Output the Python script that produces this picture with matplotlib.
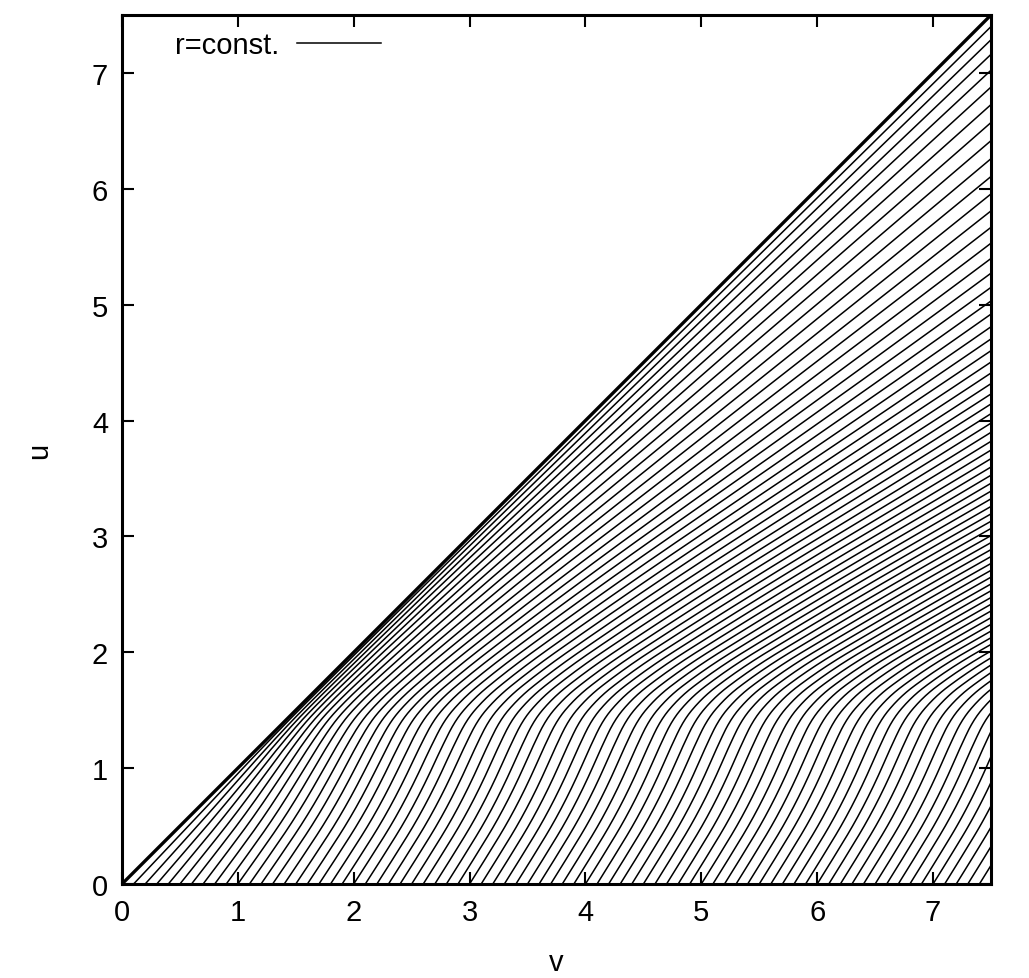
import numpy as np
import matplotlib
matplotlib.use("Agg")
import matplotlib.pyplot as plt

# границы области (v, u)
v_max = 7.5
u_max = 7.5

# где линии r=const пересекают u=0
start_v = np.round(np.arange(0.1, 7.45, 0.1), 2)

slope_u = [0.0, 0.4, 0.75, 1.05, 1.3, 1.5, 1.7, 2.0, 3.0, 5.0, 7.5]
slope_m = [1.6, 1.65, 2.0, 2.3, 2.1, 1.2, 0.75, 0.55, 0.52, 0.6, 0.7]

# на каком расстоянии от диагонали наклон становится "своим"
width_u = [0.0, 0.8, 1.4, 2.0, 7.5]
width_d = [0.8, 0.6, 0.6, 2.0, 2.5]

ticks = [0, 1, 2, 3, 4, 5, 6, 7]


def slope(u, v):
    d = np.maximum(v - u, 0.0)
    d0 = np.interp(u, width_u, width_d)
    th = np.log(np.interp(u, slope_u, slope_m)) * (1.0 - np.exp(-d / d0))
    return np.exp(th)


def trace(v0, h=0.005):
    # идём по v от u=0 до правого края
    n = int(round((v_max - v0) / h))
    vs = np.linspace(v0, v_max, n + 1)
    h = vs[1] - vs[0]
    us = np.zeros_like(vs)
    u = 0.0
    for i in range(n):
        v = vs[i]
        k1 = slope(u, v)
        k2 = slope(u + h * k1 / 2, v + h / 2)
        k3 = slope(u + h * k2 / 2, v + h / 2)
        k4 = slope(u + h * k3, v + h)
        u = u + h * (k1 + 2 * k2 + 2 * k3 + k4) / 6
        us[i + 1] = u
    return vs, us


plt.rcParams['font.family'] = ['Liberation Sans', 'DejaVu Sans']

fig = plt.figure(figsize=(10.29, 9.79), dpi=100)
ax = fig.add_axes([122 / 1029, 1 - 885 / 979, 869 / 1029, 869 / 979])

for i, v0 in enumerate(start_v):
    vs, us = trace(v0)
    ax.plot(vs, us, color='black', lw=1.1,
            label='r=const.' if i == 0 else None)

ax.plot([0, v_max], [0, u_max], color='black', lw=2.4)

ax.set_xlim(0, v_max)
ax.set_ylim(0, u_max)
ax.set_xticks(ticks)
ax.set_yticks(ticks)
ax.tick_params(direction='in', top=True, right=True, length=8.5, width=1.5,
               labelsize=21, pad=10)
for s in ax.spines.values():
    s.set_linewidth(2.2)

ax.set_xlabel('v', fontsize=21, labelpad=16)
ax.set_ylabel('u', fontsize=21, labelpad=28)

ax.legend(loc='center left', bbox_to_anchor=(0.061, 0.965), frameon=False,
          markerfirst=False, handlelength=2.9, handletextpad=0.6,
          borderpad=0, borderaxespad=0, fontsize=21)

fig.savefig('out.png', dpi=100)
plt.close(fig)
